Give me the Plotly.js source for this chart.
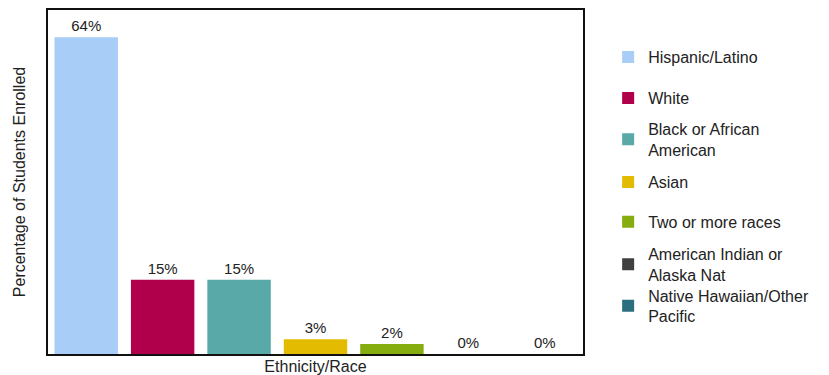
<!DOCTYPE html>
<html>
<head>
<meta charset="utf-8">
<script src="https://cdn.plot.ly/plotly-3.0.1.min.js"></script>
<style>html,body{margin:0;padding:0;background:#fff;}#chart{width:829px;height:375px;}</style>
</head>
<body>
<div id="chart"></div>
<script>
const categories = ["Hispanic/Latino", "White", "Black or African American", "Asian", "Two or more races", "American Indian or Alaska Nat", "Native Hawaiian/Other Pacific"];
const legendLabels = ["Hispanic/Latino", "White", "Black or African<br>American", "Asian", "Two or more races", "American Indian or<br>Alaska Nat", "Native Hawaiian/Other<br>Pacific"];
const values = [64, 15, 15, 3, 2, 0, 0];
const colors = ["#a8cdf6", "#b0004b", "#5aa9a9", "#e3bb00", "#85ad0f", "#404040", "#2b6e80"];
// vertical placement of each legend entry (paper fraction)
const legendY = [0.863, 0.744, 0.6235, 0.5, 0.384, 0.26, 0.1395];

const legendIds = categories.map((c, i) => i === 0 ? "legend" : "legend" + (i + 1));

const traces = categories.map((c, i) => ({
  type: "bar",
  x: [c],
  y: [values[i]],
  name: legendLabels[i],
  text: [values[i] + "%"],
  textposition: "outside",
  cliponaxis: false,
  textfont: {family: "Liberation Sans, Arial, sans-serif", size: 15, color: "#222"},
  marker: {color: colors[i], line: {width: 0}},
  legend: legendIds[i],
  hoverinfo: "none"
}));

const layout = {
  width: 829, height: 375,
  margin: {l: 48, r: 246, t: 10, b: 21},
  paper_bgcolor: "#fff", plot_bgcolor: "#fff",
  barmode: "overlay",
  bargap: 0.17,
  font: {family: "Liberation Sans, Arial, sans-serif", size: 16, color: "#222"},
  xaxis: {
    showticklabels: false, ticks: "", showgrid: false, zeroline: false,
    showline: true, linecolor: "#111", linewidth: 2, mirror: true,
    title: {text: "Ethnicity/Race", font: {size: 16}, standoff: 6},
    automargin: false
  },
  yaxis: {
    range: [0, 69.5], showticklabels: false, ticks: "", showgrid: false, zeroline: false,
    showline: true, linecolor: "#111", linewidth: 2, mirror: true,
    title: {text: "Percentage of Students Enrolled", font: {size: 16}, standoff: 16},
    automargin: false
  },
  showlegend: true
};

legendIds.forEach((id, i) => {
  layout[id] = {
    x: 1.047, xanchor: "left", y: legendY[i], yanchor: "middle",
    font: {size: 16, color: "#222"},
    bgcolor: "rgba(0,0,0,0)",
    itemclick: false
  };
});

Plotly.newPlot("chart", traces, layout, {displayModeBar: false, staticPlot: true});
</script>
</body>
</html>
